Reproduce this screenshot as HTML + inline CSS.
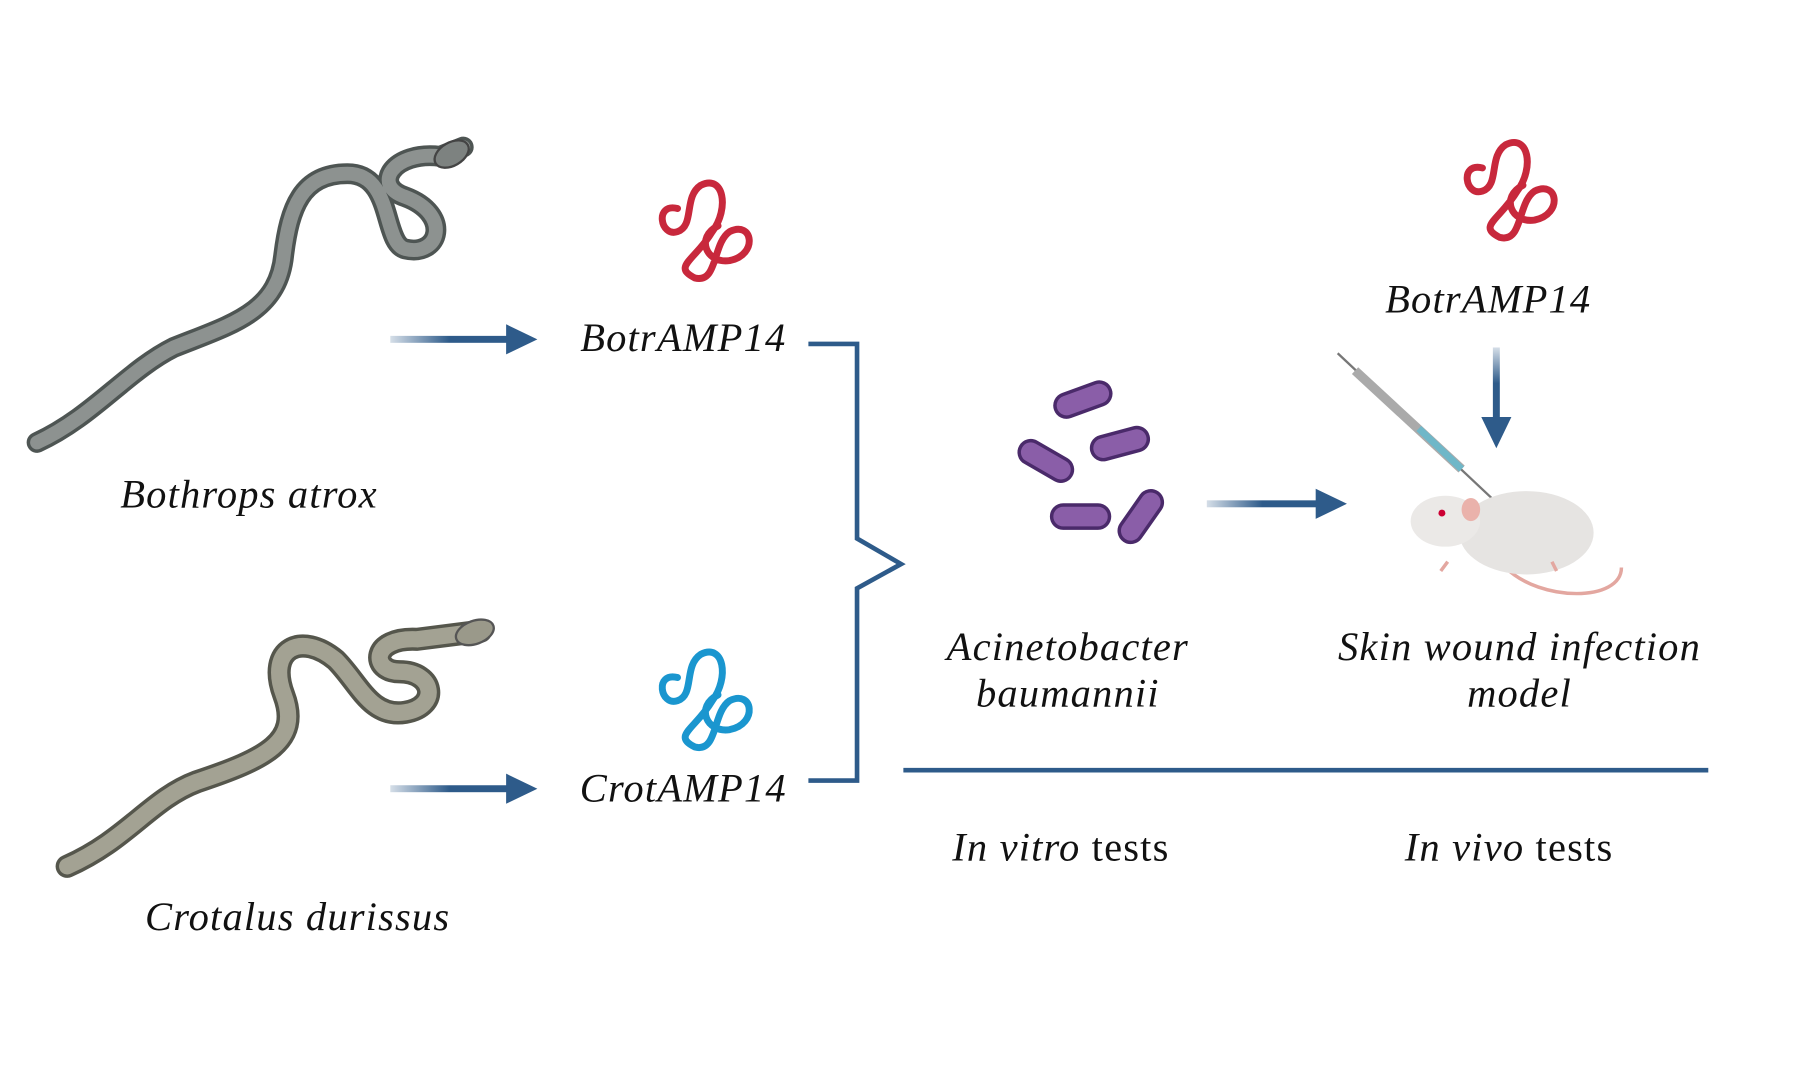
<!DOCTYPE html>
<html><head><meta charset="utf-8"><style>html,body{margin:0;padding:0;background:#fff}svg{display:block}text{font-family:"Liberation Serif",serif;font-style:italic;fill:#111;letter-spacing:1px}</style></head>
<body>
<svg width="1816" height="1069" viewBox="0 0 1568 923" preserveAspectRatio="none" xmlns="http://www.w3.org/2000/svg">
<defs>
<linearGradient id="ag" x1="0" x2="1"><stop offset="0" stop-color="#2e5b8a" stop-opacity="0.2"/><stop offset="0.5" stop-color="#2e5b8a"/></linearGradient>
<linearGradient id="agv" x1="0" x2="0" y1="0" y2="1"><stop offset="0" stop-color="#2e5b8a" stop-opacity="0.2"/><stop offset="0.5" stop-color="#2e5b8a"/></linearGradient>
</defs>
<!-- snake 1 -->
<path d="M32 382 C80 360 110 320 150 300 C200 280 240 270 245 220 C250 180 260 150 300 150 C340 150 330 210 350 215 C380 222 390 185 350 170 C320 160 340 130 380 135 L400 127" fill="none" stroke="#4e5553" stroke-width="18" stroke-linecap="round"/>
<path d="M32 382 C80 360 110 320 150 300 C200 280 240 270 245 220 C250 180 260 150 300 150 C340 150 330 210 350 215 C380 222 390 185 350 170 C320 160 340 130 380 135 L400 127" fill="none" stroke="#8d9290" stroke-width="12" stroke-linecap="round"/>
<ellipse cx="390" cy="133" rx="16" ry="10" fill="#7d8280" stroke="#444" stroke-width="2" transform="rotate(-30 390 133)"/>
<!-- snake 2 -->
<path d="M58 748 C110 725 130 690 170 675 C230 655 260 640 245 600 C230 560 260 545 290 570 C310 590 320 620 350 615 C380 610 375 580 345 580 C320 580 320 550 360 552 L415 545" fill="none" stroke="#55564c" stroke-width="20" stroke-linecap="round"/>
<path d="M58 748 C110 725 130 690 170 675 C230 655 260 640 245 600 C230 560 260 545 290 570 C310 590 320 620 350 615 C380 610 375 580 345 580 C320 580 320 550 360 552 L415 545" fill="none" stroke="#a3a293" stroke-width="14" stroke-linecap="round"/>
<ellipse cx="410" cy="546" rx="17" ry="10" fill="#9a998a" stroke="#555" stroke-width="2" transform="rotate(-20 410 546)"/>
<!-- arrows -->
<rect x="337" y="290" width="102" height="6" fill="url(#ag)"/><polygon points="437,280 464,293 437,306" fill="#2e5b8a"/>
<rect x="337" y="678" width="102" height="6" fill="url(#ag)"/><polygon points="437,668 464,681 437,694" fill="#2e5b8a"/>
<rect x="1042" y="432" width="96" height="6" fill="url(#ag)"/><polygon points="1136,422 1163,435 1136,448" fill="#2e5b8a"/>
<rect x="1289" y="300" width="6" height="62" fill="url(#agv)"/><polygon points="1279,360 1305,360 1292,387" fill="#2e5b8a"/>
<!-- bracket -->
<path d="M698 297 H740 V465 L778 487 L740 508 V674 H698" fill="none" stroke="#2e5b8a" stroke-width="4"/>
<line x1="780" y1="665" x2="1475" y2="665" stroke="#2e5b8a" stroke-width="4"/>
<!-- proteins -->
<g fill="none" stroke-width="6" stroke-linecap="round">
<path d="M585 180 C565 175 570 205 585 200 C600 195 590 170 605 160 C625 150 630 180 615 200 C600 225 580 230 600 240 C620 245 615 210 630 200 C650 190 655 220 630 225 C610 228 600 205 620 195" stroke="#c8283c"/>
<path d="M585 585 C565 580 570 610 585 605 C600 600 590 575 605 565 C625 555 630 585 615 605 C600 630 580 635 600 645 C620 650 615 615 630 605 C650 595 655 625 630 630 C610 633 600 610 620 600" stroke="#1a96cf"/>
<path d="M1280 145 C1260 140 1265 170 1280 165 C1295 160 1285 135 1300 125 C1320 115 1325 145 1310 165 C1295 190 1275 195 1295 205 C1315 210 1310 175 1325 165 C1345 155 1350 185 1325 190 C1305 193 1295 170 1315 160" stroke="#c8283c"/>
</g>
<!-- bacteria -->
<g fill="#8a5ea8" stroke="#4a2a6a" stroke-width="3">
<rect x="910" y="335" width="50" height="20" rx="10" transform="rotate(-20 935 345)"/>
<rect x="878" y="388" width="50" height="20" rx="10" transform="rotate(30 903 398)"/>
<rect x="942" y="373" width="50" height="20" rx="10" transform="rotate(-15 967 383)"/>
<rect x="908" y="436" width="50" height="20" rx="10"/>
<rect x="960" y="436" width="50" height="20" rx="10" transform="rotate(-55 985 446)"/>
</g>
<!-- syringe -->
<line x1="1155" y1="305" x2="1290" y2="432" stroke="#777" stroke-width="2"/>
<line x1="1170" y1="320" x2="1262" y2="405" stroke="#aaa" stroke-width="8"/>
<line x1="1225" y1="370" x2="1262" y2="405" stroke="#6fb7c8" stroke-width="6"/>
<!-- mouse -->
<path d="M1300 490 C1330 520 1400 520 1400 490" fill="none" stroke="#e3a7a0" stroke-width="3"/>
<ellipse cx="1318" cy="460" rx="58" ry="36" fill="#e6e4e2"/>
<ellipse cx="1248" cy="450" rx="30" ry="22" fill="#ebe9e7"/>
<ellipse cx="1270" cy="440" rx="8" ry="10" fill="#eab2ab"/>
<circle cx="1245" cy="443" r="3" fill="#c03"/>
<path d="M1250 485 l-6 8 M1340 485 l4 8" stroke="#e3a7a0" stroke-width="3"/>
<!-- text -->
<g font-size="35">
<text x="590" y="303" text-anchor="middle">BotrAMP14</text>
<text x="590" y="692" text-anchor="middle">CrotAMP14</text>
<text x="1285" y="270" text-anchor="middle">BotrAMP14</text>
<text x="215" y="438" text-anchor="middle">Bothrops atrox</text>
<text x="257" y="803" text-anchor="middle">Crotalus durissus</text>
<text x="922" y="570" text-anchor="middle">Acinetobacter</text>
<text x="922" y="610" text-anchor="middle">baumannii</text>
<text x="1312" y="570" text-anchor="middle">Skin wound infection</text>
<text x="1312" y="610" text-anchor="middle">model</text>
<text x="916" y="743" text-anchor="middle">In vitro <tspan font-style="normal">tests</tspan></text>
<text x="1303" y="743" text-anchor="middle">In vivo <tspan font-style="normal">tests</tspan></text>
</g>
</svg>
</body></html>
